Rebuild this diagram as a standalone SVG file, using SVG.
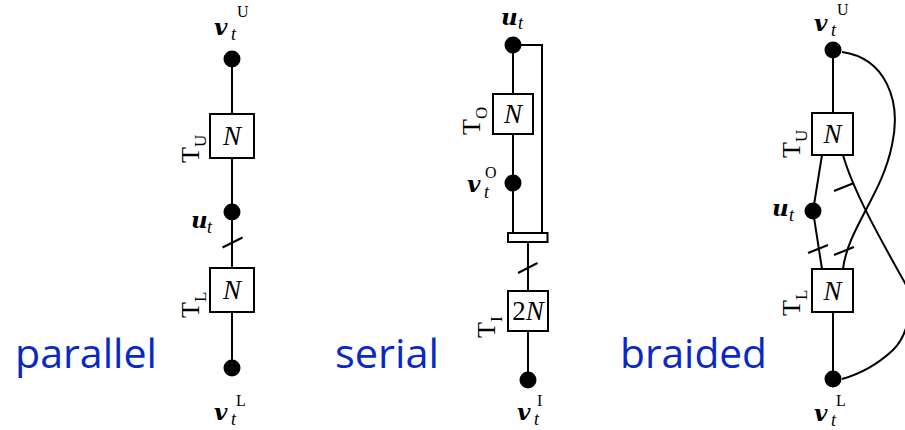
<svg xmlns="http://www.w3.org/2000/svg" width="905" height="430" viewBox="0 0 905 430">
<style>
.ln{fill:none;stroke:#000;stroke-width:2}
.bx{fill:#fff;stroke:#000;stroke-width:2}
.dot{fill:#000}
.bv{font-family:"DejaVu Serif",serif;font-weight:bold;font-style:italic;font-size:23px}
.it{font-family:"Liberation Serif",serif;font-style:italic}
.sub{font-family:"Liberation Serif",serif;font-style:italic;font-size:18px}
.sup{font-family:"Liberation Serif",serif;font-size:16px}
.T{font-family:"Liberation Serif",serif;font-size:26px}
.Ts{font-family:"Liberation Serif",serif;font-size:17px}
.N{font-family:"Liberation Serif",serif;font-style:italic;font-size:27px;text-anchor:middle}
.cap{font-family:"Open Sans","Liberation Sans",sans-serif;font-size:40px;fill:#0a28c6}
</style>
<rect width="905" height="430" fill="#fff"/>
<g id="connectors">
  <line class="ln" x1="232" y1="59" x2="232" y2="114"/>
  <line class="ln" x1="232" y1="158" x2="232" y2="268"/>
  <line class="ln" x1="232" y1="313" x2="232" y2="368"/>
  <line class="ln" x1="222.5" y1="247.5" x2="242.5" y2="237.5"/>
  <polyline class="ln" points="513,45 542,45 542,233"/>
  <line class="ln" x1="513" y1="45" x2="513" y2="94"/>
  <line class="ln" x1="513" y1="134" x2="513" y2="233"/>
  <line class="ln" x1="528" y1="242" x2="528" y2="291"/>
  <line class="ln" x1="528" y1="331" x2="528" y2="380"/>
  <line class="ln" x1="518" y1="273" x2="537.5" y2="263"/>
  <line class="ln" x1="833" y1="50" x2="833" y2="113"/>
  <polyline class="ln" points="822,155 813,211 822,269"/>
  <path class="ln" d="M842,52 C885,58 902,100 892,145 C882,195 848,228 843,269"/>
  <path class="ln" d="M843,155 C853,190 878,235 905,283 C914,300 910,333 893,350 C878,364 860,374 842,379"/>
  <line class="ln" x1="833" y1="312" x2="833" y2="379"/>
  <line class="ln" x1="834" y1="191" x2="854" y2="183"/>
  <line class="ln" x1="808" y1="253" x2="828" y2="245"/>
  <line class="ln" x1="834" y1="255" x2="854" y2="247"/>
</g>

<g id="p_vU">
  <circle class="dot" cx="232" cy="59" r="8.5"/>
  <text><tspan class="bv" x="214" y="35">v</tspan><tspan class="sub" x="231" y="40">t</tspan><tspan class="sup" x="237" y="16.5">U</tspan></text>
</g>
<g id="p_TU">
  <rect class="bx" x="210" y="114" width="44" height="44"/>
  <text class="N" x="232" y="145">N</text>
  <text transform="translate(199,163) rotate(-90)"><tspan class="T">T</tspan><tspan class="Ts" dy="7">U</tspan></text>
</g>
<g id="p_ut">
  <circle class="dot" cx="232" cy="212" r="8.5"/>
  <text><tspan class="bv" x="191" y="228">u</tspan><tspan class="sub" x="207" y="233">t</tspan></text>
</g>
<g id="p_TL">
  <rect class="bx" x="210" y="268" width="44" height="44"/>
  <text class="N" x="232" y="299">N</text>
  <text transform="translate(199,318) rotate(-90)"><tspan class="T">T</tspan><tspan class="Ts" dy="7">L</tspan></text>
</g>
<g id="p_vL">
  <circle class="dot" cx="232" cy="368" r="8.5"/>
  <text><tspan class="bv" x="214" y="420">v</tspan><tspan class="sub" x="231" y="425">t</tspan><tspan class="sup" x="236" y="406">L</tspan></text>
</g>
<text id="lbl_parallel" class="cap" x="15" y="368" textLength="142" lengthAdjust="spacingAndGlyphs">parallel</text>

<g id="s_ut">
  <circle class="dot" cx="513" cy="45" r="8.5"/>
  <text><tspan class="bv" x="501" y="25">u</tspan><tspan class="sub" x="518" y="29">t</tspan></text>
</g>
<g id="s_TO">
  <rect class="bx" x="493" y="94" width="40" height="40"/>
  <text class="N" x="513" y="123">N</text>
  <text transform="translate(480,135) rotate(-90)"><tspan class="T">T</tspan><tspan class="Ts" dy="7">O</tspan></text>
</g>
<g id="s_vO">
  <circle class="dot" cx="513" cy="183" r="8.5"/>
  <text><tspan class="bv" x="467" y="192">v</tspan><tspan class="sub" x="484" y="198">t</tspan><tspan class="sup" x="485" y="178">O</tspan></text>
</g>
<g id="s_bar">
  <rect class="bx" x="508" y="233" width="39.5" height="9"/>
</g>
<g id="s_TI">
  <rect class="bx" x="508" y="291" width="40" height="40"/>
  <text x="528" y="320" style="text-anchor:middle;font-family:'Liberation Serif',serif;font-size:27px">2<tspan font-style="italic">N</tspan></text>
  <text transform="translate(495,338) rotate(-90)"><tspan class="T">T</tspan><tspan class="Ts" dy="7">I</tspan></text>
</g>
<g id="s_vI">
  <circle class="dot" cx="528" cy="380" r="8.5"/>
  <text><tspan class="bv" x="517" y="420">v</tspan><tspan class="sub" x="534" y="425">t</tspan><tspan class="sup" x="537" y="406">I</tspan></text>
</g>
<text id="lbl_serial" class="cap" x="335" y="368" textLength="104" lengthAdjust="spacingAndGlyphs">serial</text>

<g id="b_vU">
  <circle class="dot" cx="833" cy="50" r="8.5"/>
  <text><tspan class="bv" x="814" y="31">v</tspan><tspan class="sub" x="831" y="36">t</tspan><tspan class="sup" x="837" y="15">U</tspan></text>
</g>
<g id="b_TU">
  <rect class="bx" x="812" y="113" width="41" height="42"/>
  <text class="N" x="832.5" y="143">N</text>
  <text transform="translate(800,158) rotate(-90)"><tspan class="T">T</tspan><tspan class="Ts" dy="7">U</tspan></text>
</g>
<g id="b_ut">
  <circle class="dot" cx="813" cy="211" r="8.5"/>
  <text><tspan class="bv" x="772" y="216">u</tspan><tspan class="sub" x="789" y="221">t</tspan></text>
</g>
<g id="b_TL">
  <rect class="bx" x="812" y="269" width="41" height="43"/>
  <text class="N" x="832.5" y="300">N</text>
  <text transform="translate(800,316) rotate(-90)"><tspan class="T">T</tspan><tspan class="Ts" dy="7">L</tspan></text>
</g>
<g id="b_vL">
  <circle class="dot" cx="833" cy="379" r="8.5"/>
  <text><tspan class="bv" x="814" y="421">v</tspan><tspan class="sub" x="831" y="426">t</tspan><tspan class="sup" x="836" y="406">L</tspan></text>
</g>
<text id="lbl_braided" class="cap" x="620" y="368" textLength="147" lengthAdjust="spacingAndGlyphs">braided</text>
</svg>
